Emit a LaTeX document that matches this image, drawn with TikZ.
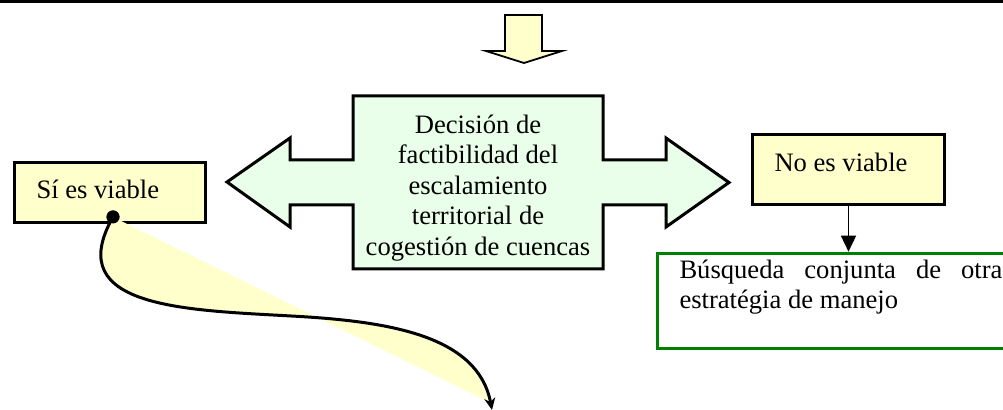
\documentclass[tikz,border=0pt]{standalone}
\usepackage{fontspec}
\setmainfont{Liberation Serif}
\usetikzlibrary{arrows.meta}
\definecolor{paleyellow}{HTML}{FFFFCC}
\definecolor{palegreen}{HTML}{E9FFE9}
\definecolor{boxgreen}{HTML}{008000}
\hbadness=10000
\tikzset{
  blockline/.style={draw=black, line width=1.5pt, line join=miter},
  viablebox/.style={blockline, fill=paleyellow, inner xsep=11pt, inner ysep=0pt, anchor=north west},
  greenbox/.style={draw=boxgreen, line width=1.5pt, fill=white, inner xsep=11pt, inner ysep=0pt, anchor=north west},
  thinarrow/.style={draw=black, line width=0.75pt, -{Triangle[length=8pt,width=7.5pt]}},
  curvearrow/.style={draw=black, line width=1.5pt, -{Stealth[length=6pt,width=5.5pt]}},
  dotnode/.style={circle, fill=black, inner sep=0pt, minimum size=6.5pt}
}
\begin{document}
\begin{tikzpicture}[x=0.5pt,y=-0.5pt,font=\fontsize{13.3}{15.3}\selectfont]
\useasboundingbox (0,0) rectangle (1003,410);
\clip (0,0) rectangle (1003,410);
% top rule
\draw[line width=1.5pt] (0,1.5) -- (1003,1.5);
% down block arrow
\draw[line width=0.9pt, fill=paleyellow, line join=miter]
  (505,15) -- (542,15) -- (542,51) -- (562,51) -- (524,63) -- (486,51) -- (505,51) -- cycle;
% central double block arrow
\draw[blockline, fill=palegreen]
  (353,96) -- (603,96) -- (603,160) -- (666,160) -- (666,138) -- (729,182.5)
  -- (666,227) -- (666,205) -- (603,205) -- (603,269) -- (353,269) -- (353,205)
  -- (290,205) -- (290,227) -- (227,182) -- (290,138) -- (290,160) -- (353,160) -- cycle;
\node[align=center, inner sep=0pt] (dec) at (478,188)
  {Decisión de\\factibilidad del\\escalamiento\\territorial de\\cogestión de cuencas};
% boxes
\node[viablebox, text height=17.85pt, text depth=12.4pt] (si) at (13,161)
  {\makebox[73.5pt][l]{Sí es viable}};
\node[viablebox, text height=18.5pt, text depth=16.5pt] (no) at (751,133)
  {\makebox[74pt][l]{No es viable}};
\node[greenbox] (busq) at (656,251.7)
  {\parbox[c][47.5pt][t]{161.5pt}{\rule{0pt}{12.5pt}Búsqueda conjunta de otra\linebreak estratégia de manejo}};
\draw[thinarrow] (no.south) -- (no.south |- busq.north);
% curved connector
\node[dotnode] (dot) at (113,217) {};
\coordinate (curveend) at (492,410);
\draw[curvearrow, fill=paleyellow]
  (dot.center) .. controls (60,310) and (190,310) .. (300,316.5)
  .. controls (390,322) and (478,336) .. (curveend);
\node[dotnode] (dottop) at (dot) {};
\end{tikzpicture}
\end{document}
